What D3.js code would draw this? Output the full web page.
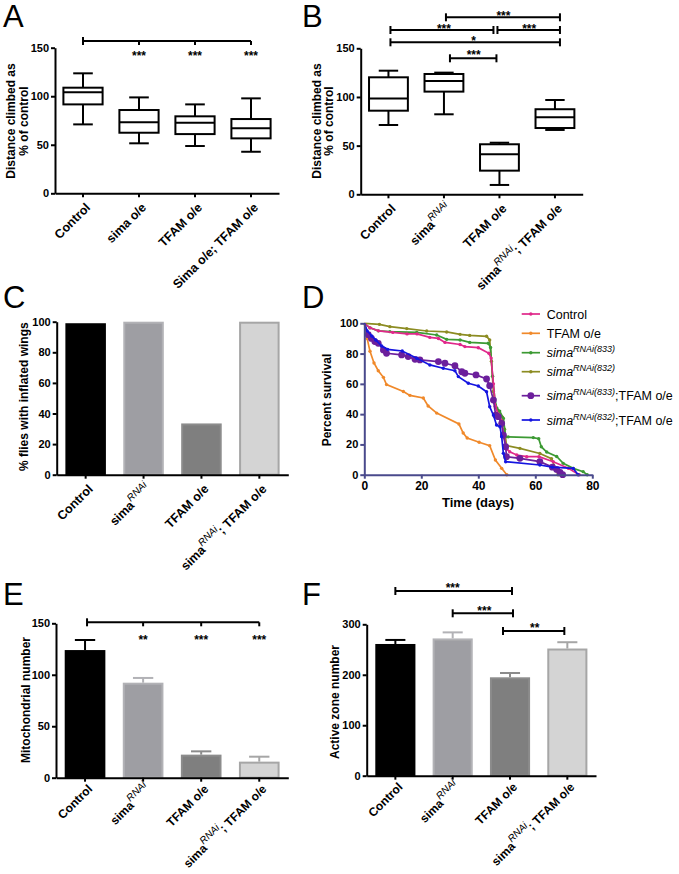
<!DOCTYPE html>
<html><head><meta charset="utf-8">
<script src="https://cdn.jsdelivr.net/npm/d3@7"></script>
<style>
body{margin:0;background:#fff}
svg{display:block}
text{font-family:"Liberation Sans",Arial,Helvetica,sans-serif}
</style>
</head><body>
<svg id="fig" width="679" height="874"></svg>
<script>
// ---------------- DATA ----------------
const groupsA = ["Control", "sima o/e", "TFAM o/e", "Sima o/e; TFAM o/e"];
const groupsB = ["Control", "simaRNAi", "TFAM o/e", "simaRNAi; TFAM o/e"];
const labelPartsB = [["Control"], ["sima", "RNAi"], ["TFAM o/e"], ["sima", "RNAi", "; TFAM o/e"]];

// Panel A box plots (distance climbed, % of control)
const boxAMin = [71, 51.5, 48.7, 42.8];
const boxAQ1  = [91.6, 62.4, 61, 56.6];
const boxAMed = [104, 73.1, 72.7, 66.9];
const boxAQ3  = [108.8, 85.8, 79.3, 76.5];
const boxAMax = [123.6, 98.8, 91.6, 97.8];
const sigA = ["", "***", "***", "***"];

// Panel B box plots
const boxBMin = [71.2, 82.2, 9.6, 66.1];
const boxBQ1  = [85.9, 105.5, 24.3, 68.1];
const boxBMed = [98.3, 116.4, 41.1, 79.1];
const boxBQ3  = [120.2, 123.6, 51.4, 87.4];
const boxBMax = [127, 125, 53, 96.9];

// Panel C: % flies with inflated wings
const inflatedWings = [99, 100, 33.5, 100];

// Panel D: survival curves [day, percent]
const survControl = [[0,100],[2,97],[5,95],[10,94],[15,93],[18.5,93],[23,90.7],[26,90],[28.3,87.4],[33.6,86],[35.3,84.6],[40,83.9],[43.7,80.2],[44.5,77],[45.3,60],[46,45],[47,40],[48,36],[49,25],[50,17],[51,15.2],[53.5,13],[57,11.9],[61.3,11.9],[66.3,8.6],[71.6,4.2],[75.4,0]];
const survTFAM = [[0,100],[1,90],[2,81.5],[3.4,73.8],[4.9,68.7],[6.7,64.3],[7.8,59.5],[13.7,55],[16,52.4],[20.7,50.7],[22.4,45.4],[25.4,40.7],[33.2,33.5],[34.7,27.5],[36.1,24.2],[40.3,21.4],[44,19.2],[46,9.7],[48.2,4.2],[50,0]];
const survSima833 = [[0,100],[2,97],[4.9,95],[9,94.5],[18.4,94],[25.4,92.3],[28.9,89.4],[33.6,89],[37,87.4],[43.5,86.8],[44.3,84],[45,65],[45.8,50],[46.5,44],[47.5,42],[48.8,37.2],[49.6,25],[50.5,25],[59.3,24.5],[61.2,23.8],[62.1,18.5],[64,15],[67.5,12],[69.8,7.5],[73.3,4.2],[76.8,2],[78.2,0]];
const survSima832 = [[0,100],[5.3,99.3],[9,97.8],[14.9,96.5],[21.9,94.9],[28.9,94.3],[33.6,92.7],[37,92],[42.9,91.4],[44,89],[44.6,75],[45.3,55],[46,45],[47,42],[48.5,38],[49.2,30],[49.9,19.2],[54.6,17.4],[61.6,14],[65.7,10.6],[68,0]];
const survSima833TFAM = [[0,100],[1.4,92.5],[2.5,90],[3.7,87.9],[4.9,86.8],[6.7,82.4],[7.8,80.2],[13.1,79.1],[15.4,78],[17.8,76.2],[19.5,75.8],[26,74.7],[28.3,73.6],[31.8,72],[34.2,68],[35.3,67],[39.2,65.9],[42.9,63.2],[44,58.8],[45.3,49.3],[46.1,39.4],[47,38.3],[48.2,33.9],[48.8,26.2],[49.6,18.5],[49.9,11.9],[54.6,10.8],[61.6,8.6],[66,5],[67.5,3.5],[68.7,1.5],[69.6,0]];
const survSima832TFAM = [[0,100],[1,95],[2.6,91.6],[4,89],[6.1,85],[8.2,82.8],[13.3,81.7],[18.4,76.9],[23,72.5],[27.7,70.3],[31.8,68.7],[33,64.8],[36.5,60.4],[40,58.6],[42.9,54.8],[44,44.9],[45.3,39.4],[46.4,32.8],[47.6,31.7],[48.2,25.1],[48.8,14.1],[49.6,8.6],[61.6,6.4],[66,5],[73.3,4.2],[75,0]];
const survNames = ["Control", "TFAM o/e", "sima833", "sima832", "sima833;TFAM", "sima832;TFAM"];

// Panel E: mitochondrial number (mean, SEM)
const mitoMean = [124, 92.3, 22.4, 15.6];
const mitoSem  = [9.8, 4.6, 3.2, 4.8];
const sigE = ["", "**", "***", "***"];

// Panel F: active zone number (mean, SEM)
const azMean = [261, 272, 195, 252];
const azSem  = [8, 12, 8.5, 12.5];

// ticks
const yTicksAB = [0, 50, 100, 150];
const yTicksCD = [0, 20, 40, 60, 80, 100];
const xTicksD  = [0, 20, 40, 60, 80];
const yTicksE  = [0, 50, 100, 150];
const yTicksF  = [0, 100, 200, 300];

// ---------------- STYLE ----------------
const barFill   = ["#000000", "#9e9ea3", "#7f7f7f", "#d4d4d4"];
const barStroke = ["#000000", "#b2b2b6", "#8c8c8c", "#a6a6a6"];
const survColors = ["#e0288a", "#f0892a", "#3c9a33", "#8c8c22", "#6c1f9c", "#1414e0"];

const svg = d3.select("#fig");

function styleAxis(g, color) {
  g.selectAll("path.domain").attr("stroke", color).attr("stroke-width", 2);
  g.selectAll(".tick line").attr("stroke", color).attr("stroke-width", 2);
  g.selectAll(".tick text").attr("fill", "#000").style("font-size", "11px").style("font-weight", "bold")
    .style("font-family", '"Liberation Sans",Arial,sans-serif');
}

function leftAxis(y, x0, ticks, color) {
  const g = svg.append("g").attr("transform", `translate(${x0},0)`)
    .call(d3.axisLeft(y).tickValues(ticks).tickSize(4).tickSizeOuter(0).tickPadding(2));
  styleAxis(g, color || "#000");
  return g;
}
function bottomAxisBand(x, y0) {
  const g = svg.append("g").attr("transform", `translate(0,${y0})`)
    .call(d3.axisBottom(x).tickSize(4).tickSizeOuter(0).tickFormat(""));
  styleAxis(g, "#000");
  return g;
}
function catLabels(x, y0, parts, dyOff, fs) {
  dyOff = dyOff || 15; fs = fs || 12.5;
  x.domain().forEach((d, i) => {
    const t = svg.append("text")
      .attr("transform", `translate(${x(d) + x.bandwidth() / 2 + 8},${y0 + dyOff}) rotate(-45)`)
      .attr("text-anchor", "end").style("font-weight", "bold").style("font-size", fs + "px");
    const p = parts[i];
    if (p.length === 1) { t.append("tspan").text(p[0]); }
    else {
      t.append("tspan").text(p[0]);
      t.append("tspan").attr("dy", -6).style("font-size", "10px").style("font-style", "italic").style("font-weight", "normal").text(p[1]);
      if (p[2]) t.append("tspan").attr("dy", 6).text(p[2]);
    }
  });
}
function yTitle(lines, xs, cy) {
  lines.forEach((l, i) => {
    svg.append("text").attr("transform", `translate(${xs[i]},${cy}) rotate(-90)`)
      .attr("text-anchor", "middle").style("font-weight", "bold").style("font-size", "12px").text(l);
  });
}
function panelLetter(txt, x, y) {
  svg.append("text").attr("x", x).attr("y", y).style("font-size", "31px").text(txt);
}
function stars(txt, x, yc) {
  svg.append("text").attr("x", x).attr("y", yc + 7).attr("text-anchor", "middle")
    .style("font-size", "12px").style("font-weight", "bold").text(txt);
}
function sigBar(x1, x2, y, capsBoth) {
  svg.append("line").attr("x1", x1).attr("x2", x2).attr("y1", y).attr("y2", y).attr("stroke", "#000").attr("stroke-width", 2);
  svg.append("line").attr("x1", x1).attr("x2", x1).attr("y1", y - 4).attr("y2", y + 4).attr("stroke", "#000").attr("stroke-width", 2);
  if (capsBoth) svg.append("line").attr("x1", x2).attr("x2", x2).attr("y1", y - 4).attr("y2", y + 4).attr("stroke", "#000").attr("stroke-width", 2);
}
function boxes(x, y, mn, q1, md, q3, mx) {
  const bw = x.bandwidth();
  x.domain().forEach((d, i) => {
    const cx = x(d) + bw / 2;
    const g = svg.append("g").attr("stroke", "#000").attr("stroke-width", 2).attr("fill", "none");
    g.append("line").attr("x1", cx).attr("x2", cx).attr("y1", y(mn[i])).attr("y2", y(q1[i]));
    g.append("line").attr("x1", cx).attr("x2", cx).attr("y1", y(q3[i])).attr("y2", y(mx[i]));
    g.append("line").attr("x1", cx - bw / 4).attr("x2", cx + bw / 4).attr("y1", y(mn[i])).attr("y2", y(mn[i]));
    g.append("line").attr("x1", cx - bw / 4).attr("x2", cx + bw / 4).attr("y1", y(mx[i])).attr("y2", y(mx[i]));
    g.append("rect").attr("x", x(d)).attr("width", bw).attr("y", y(q3[i])).attr("height", y(q1[i]) - y(q3[i])).attr("fill", "#fff");
    g.append("line").attr("x1", x(d)).attr("x2", x(d) + bw).attr("y1", y(md[i])).attr("y2", y(md[i]));
  });
}
function bars(x, y, vals, errs) {
  const bw = x.bandwidth();
  x.domain().forEach((d, i) => {
    const cx = x(d) + bw / 2;
    if (errs) {
      svg.append("line").attr("x1", cx).attr("x2", cx).attr("y1", y(vals[i])).attr("y2", y(vals[i] + errs[i]))
        .attr("stroke", barStroke[i]).attr("stroke-width", 2);
      svg.append("line").attr("x1", cx - bw / 4).attr("x2", cx + bw / 4).attr("y1", y(vals[i] + errs[i])).attr("y2", y(vals[i] + errs[i]))
        .attr("stroke", barStroke[i]).attr("stroke-width", 2);
    }
    svg.append("rect").attr("x", x(d) + 1).attr("width", bw - 2).attr("y", y(vals[i]) + 1)
      .attr("height", Math.max(0, y(0) - y(vals[i]) - 1))
      .attr("fill", barFill[i]).attr("stroke", barStroke[i]).attr("stroke-width", 2);
  });
}
function band(r0, r1, dom) {
  return d3.scaleBand().domain(dom).range([r0, r1]).paddingInner(0.3).paddingOuter(0.15);
}
const cx = (x, d) => x(d) + x.bandwidth() / 2;

// ---------------- PANEL A ----------------
{
  const x = band(55, 279, groupsA);
  const y = d3.scaleLinear().domain([0, 150]).range([193.3, 47.7]);
  boxes(x, y, boxAMin, boxAQ1, boxAMed, boxAQ3, boxAMax);
  leftAxis(y, 55, yTicksAB);
  bottomAxisBand(x, 193.3);
  catLabels(x, 193.3, groupsA.map(g => [g]));
  yTitle(["Distance climbed as", "% of control"], [15, 27.5], 121);
  panelLetter("A", 3, 27);
  const yb = 41;
  sigBar(cx(x, groupsA[0]), cx(x, groupsA[3]), yb, false);
  groupsA.forEach((g, i) => {
    if (i > 0) {
      svg.append("line").attr("x1", cx(x, g)).attr("x2", cx(x, g)).attr("y1", yb).attr("y2", yb + 4).attr("stroke", "#000").attr("stroke-width", 2);
      stars(sigA[i], cx(x, g), 53.3);
    }
  });
}

// ---------------- PANEL B ----------------
{
  const x = band(360.7, 582.7, groupsB);
  const y = d3.scaleLinear().domain([0, 150]).range([194.3, 48.3]);
  boxes(x, y, boxBMin, boxBQ1, boxBMed, boxBQ3, boxBMax);
  leftAxis(y, 360.7, yTicksAB);
  bottomAxisBand(x, 194.3);
  catLabels(x, 194.3, labelPartsB);
  yTitle(["Distance climbed as", "% of control"], [320.5, 333], 121);
  panelLetter("B", 302, 27);
  const c = groupsB.map(g => cx(x, g));
  sigBar(c[1] + 2, c[3] + 5, 17.3, true); stars("***", (c[1] + c[3]) / 2 + 4, 13.3);
  sigBar(c[0] + 2, c[2] - 6, 30, true); stars("***", (c[0] + c[2]) / 2, 25.7);
  sigBar(c[2] - 2, c[3] + 5, 30, true); stars("***", (c[2] + c[3]) / 2 + 2, 25.7);
  sigBar(c[0] + 2, c[3] + 5, 42.3, true); stars("*", (c[0] + c[3]) / 2 + 2, 38.3);
  sigBar(c[1] + 6, c[2] - 3, 58.3, true); stars("***", (c[1] + c[2]) / 2 + 2, 52.3);
}

// ---------------- PANEL C ----------------
{
  const x = band(56.7, 288.3, groupsB);
  const y = d3.scaleLinear().domain([0, 100]).range([474.7, 321.7]);
  bars(x, y, inflatedWings, null);
  leftAxis(y, 56.7, yTicksCD);
  bottomAxisBand(x, 474.7);
  catLabels(x, 474.7, labelPartsB);
  yTitle(["% flies with inflated wings"], [27.5], 396.7);
  panelLetter("C", 3, 308);
}

// ---------------- PANEL D ----------------
{
  const axisCol = "#4a4a8c";
  const x = d3.scaleLinear().domain([0, 80]).range([364.3, 592.3]);
  const y = d3.scaleLinear().domain([0, 100]).range([474.7, 323.3]);
  const series = [survControl, survTFAM, survSima833, survSima832, survSima833TFAM, survSima832TFAM];
  const line = d3.line().x(d => x(d[0])).y(d => y(d[1]));
  const drawOrder = [1, 3, 2, 0, 4, 5];
  drawOrder.forEach(i => {
    const s = series[i];
    svg.append("path").datum(s).attr("d", line).attr("fill", "none")
      .attr("stroke", survColors[i]).attr("stroke-width", 1.7);
    svg.append("g").selectAll("circle").data(s.slice(1)).join("circle")
      .attr("cx", d => x(d[0])).attr("cy", d => y(d[1]))
      .attr("r", i === 4 ? 3.4 : 1.7).attr("fill", survColors[i]);
  });
  const gy = svg.append("g").attr("transform", `translate(364.3,0)`)
    .call(d3.axisLeft(y).tickValues(yTicksCD).tickSize(4).tickSizeOuter(0).tickPadding(2));
  styleAxis(gy, axisCol);
  const gx = svg.append("g").attr("transform", `translate(0,474.7)`)
    .call(d3.axisBottom(x).tickValues(xTicksD).tickSize(4).tickSizeOuter(0).tickPadding(3));
  styleAxis(gx, axisCol);
  gx.selectAll(".tick text").style("font-size", "12px");
  svg.append("text").attr("x", 478).attr("y", 507).attr("text-anchor", "middle")
    .style("font-weight", "bold").style("font-size", "13px").text("Time (days)");
  yTitle(["Percent survival"], [331], 400);
  panelLetter("D", 302, 308);
  const legY = [314, 333.3, 352.7, 371.7, 395.7, 420];
  const legParts = [["Control"], ["TFAM o/e"], ["sima", "RNAi(833)"], ["sima", "RNAi(832)"], ["sima", "RNAi(833)", ";TFAM o/e"], ["sima", "RNAi(832)", ";TFAM o/e"]];
  legParts.forEach((p, i) => {
    const yy = legY[i];
    svg.append("line").attr("x1", 521.7).attr("x2", 540).attr("y1", yy).attr("y2", yy)
      .attr("stroke", survColors[i]).attr("stroke-width", 1.7);
    svg.append("circle").attr("cx", 530.8).attr("cy", yy).attr("r", i === 4 ? 3.4 : 1.7).attr("fill", survColors[i]);
    const t = svg.append("text").attr("x", 546.7).attr("y", yy + 4.5).style("font-size", "12.5px");
    if (p.length === 1) t.append("tspan").text(p[0]);
    else {
      t.append("tspan").style("font-style", "italic").text(p[0]);
      t.append("tspan").attr("dy", -5).style("font-style", "italic").style("font-size", "9px").text(p[1]);
      if (p[2]) t.append("tspan").attr("dy", 5).text(p[2]);
    }
  });
}

// ---------------- PANEL E ----------------
{
  const x = band(56, 288.3, groupsB);
  const y = d3.scaleLinear().domain([0, 150]).range([777.7, 623.3]);
  bars(x, y, mitoMean, mitoSem);
  leftAxis(y, 56, yTicksE);
  bottomAxisBand(x, 777.7);
  catLabels(x, 777.7, labelPartsB, 12, 12);
  yTitle(["Mitochondrial number"], [30], 700);
  panelLetter("E", 3, 605);
  const yb = 622.3;
  sigBar(cx(x, groupsB[0]) + 2, cx(x, groupsB[3]), yb, false);
  groupsB.forEach((g, i) => {
    if (i > 0) {
      svg.append("line").attr("x1", cx(x, g)).attr("x2", cx(x, g)).attr("y1", yb).attr("y2", yb + 4).attr("stroke", "#000").attr("stroke-width", 2);
      stars(sigE[i], cx(x, g), 636.7);
    }
  });
}

// ---------------- PANEL F ----------------
{
  const x = band(366.7, 596, groupsB);
  const y = d3.scaleLinear().domain([0, 300]).range([775.7, 624.3]);
  bars(x, y, azMean, azSem);
  leftAxis(y, 366.7, yTicksF);
  bottomAxisBand(x, 775.7);
  catLabels(x, 775.7, labelPartsB, 12, 12);
  yTitle(["Active zone number"], [339], 702);
  panelLetter("F", 302, 605);
  const c = groupsB.map(g => cx(x, g));
  sigBar(c[0], c[2] + 2, 591, true); stars("***", (c[0] + c[2]) / 2, 585);
  sigBar(c[1], c[2] + 3, 613.3, true); stars("***", (c[1] + c[2]) / 2 + 3, 608.3);
  sigBar(c[2] - 7, c[3] - 3, 631, true); stars("**", (c[2] + c[3]) / 2 - 4, 625);
}
</script>
</body></html>
